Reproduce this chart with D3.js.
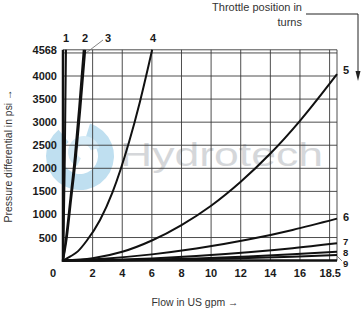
<!DOCTYPE html>
<html lang="en">
<head>
<meta charset="UTF-8">
<title>Throttle curves</title>
<script src="https://d3js.org/d3.v7.min.js"></script>
<style>
  body { margin: 0; background: #fff; }
  .tick-lbl { font-family: "Liberation Sans", Arial, sans-serif; font-weight: bold; font-size: 11px; fill: #1a1a1a; }
  .title { font-family: "Liberation Sans", Arial, sans-serif; font-size: 11px; fill: #333; }
</style>
</head>
<body>
<div id="chart"></div>
<script>
  // flow in US gpm vs pressure differential in psi, per throttle position
  const xTicks = [2, 4, 6, 8, 10, 12, 14, 16, 18];
  const yTicks = [500, 1000, 1500, 2000, 2500, 3000, 3500, 4000, 4500];
  const yLabels = [500, 1000, 1500, 2000, 2500, 3000, 3500, 4000, 4568];
  const curve1 = [[0, 0], [0.05, 700], [0.12, 2200], [0.2, 4568]];
  const curve2 = [[0, 0], [0.2, 480], [0.5, 1350], [0.8, 2250], [1.1, 3350], [1.4, 4568]];
  const curve3 = [[0, 0], [0.25, 480], [0.55, 1330], [0.87, 2230], [1.18, 3330], [1.5, 4568]];
  const curve4 = [[0, 0], [0.5, 90], [1, 200], [1.6, 430], [2.5, 880], [3.34, 1480], [4.45, 2560], [5.2, 3450], [6.02, 4568]];
  const curve5 = [[0, 0], [2, 50], [4, 190], [6, 435], [8, 770], [10, 1190], [12, 1710], [14, 2320], [16, 3030], [18.5, 4040]];
  const curve6 = [[0, 0], [3, 48], [6, 135], [9, 260], [12.5, 455], [15.5, 665], [18.5, 910]];
  const curve7 = [[0, 0], [3, 15], [6, 48], [9, 99], [12.5, 180], [15.5, 268], [18.5, 375]];
  const curve8 = [[0, 0], [3, 6], [6, 22], [9, 47], [12.5, 88], [15.5, 135], [18.5, 193]];
  const curve9 = [[0, 0], [3, 4], [6, 13], [9, 29], [12.5, 55], [15.5, 85], [18.5, 121]];
  const curves = [curve1, curve2, curve3, curve4, curve5, curve6, curve7, curve8, curve9];

  const W = 361, H = 310;
  const svg = d3.select('#chart').append('svg')
    .attr('width', W).attr('height', H);

  const x = d3.scaleLinear().domain([0, 18.5]).range([63, 337]);
  const y = d3.scaleLinear().domain([0, 4568]).range([260.6, 49.8]);

  // watermark
  const wm = svg.append('g').attr('opacity', 0.55);
  const arc = d3.arc();
  wm.append('path')
    .attr('transform', 'translate(80,156)')
    .attr('fill', '#8cc6e4')
    .attr('d', arc({ innerRadius: 18, outerRadius: 34, startAngle: 0.3, endAngle: 5.6 }));
  wm.append('path')
    .attr('transform', 'translate(84,152)')
    .attr('fill', '#b5dcef')
    .attr('d', arc({ innerRadius: 7, outerRadius: 16, startAngle: 3.6, endAngle: 7.6 }));
  wm.append('text')
    .attr('x', 120).attr('y', 166)
    .attr('textLength', 203)
    .attr('lengthAdjust', 'spacingAndGlyphs')
    .attr('font-family', '"Liberation Sans", sans-serif')
    .attr('font-size', 34)
    .attr('fill', '#b4b8bd')
    .text('Hydrotech');

  // grid
  const grid = svg.append('g').attr('stroke', '#3a3a3a').attr('stroke-width', 0.9);
  grid.selectAll('.gx').data(xTicks.concat([18.5])).enter().append('line')
    .attr('x1', d => x(d)).attr('x2', d => x(d))
    .attr('y1', y(0)).attr('y2', y(4568));
  grid.selectAll('.gy').data(yTicks.concat([4568])).enter().append('line')
    .attr('y1', d => y(d)).attr('y2', d => y(d))
    .attr('x1', x(0)).attr('x2', x(18.5));

  // axes lines
  svg.append('line').attr('x1', x(0)).attr('x2', x(0)).attr('y1', y(0) + 1.2).attr('y2', y(4568))
    .attr('stroke', '#111').attr('stroke-width', 2.5);
  svg.append('line').attr('x1', x(0) - 1.2).attr('x2', x(18.5)).attr('y1', y(0)).attr('y2', y(0))
    .attr('stroke', '#111').attr('stroke-width', 2.5);

  // tick labels
  svg.selectAll('.yl').data(yLabels).enter().append('text')
    .attr('class', 'tick-lbl')
    .attr('x', 57).attr('y', d => y(d) + 4)
    .attr('text-anchor', 'end')
    .text(d => d);
  svg.selectAll('.xl').data([0].concat(xTicks.slice(0, 8))).enter().append('text')
    .attr('class', 'tick-lbl')
    .attr('x', d => d === 0 ? x(0) - 10 : x(d)).attr('y', 277)
    .attr('text-anchor', 'middle')
    .text(d => d);
  svg.append('text').attr('class', 'tick-lbl')
    .attr('x', x(18.5) + 4).attr('y', 277)
    .attr('text-anchor', 'end')
    .text('18.5');

  // curves
  const line = d3.line()
    .x(d => x(d[0])).y(d => y(d[1]))
    .curve(d3.curveMonotoneX);
  svg.append('g').selectAll('path').data(curves).enter().append('path')
    .attr('d', line)
    .attr('fill', 'none')
    .attr('stroke', '#111')
    .attr('stroke-width', 2);

  // curve labels
  const topLbl = [['1', 66], ['2', 85], ['4', 153]];
  svg.selectAll('.tl').data(topLbl).enter().append('text')
    .attr('class', 'tick-lbl')
    .attr('x', d => d[1]).attr('y', 42)
    .attr('text-anchor', 'middle')
    .text(d => d[0]);
  svg.append('text').attr('class', 'tick-lbl').attr('x', 108).attr('y', 42)
    .attr('text-anchor', 'middle').text('3');
  svg.append('line').attr('x1', 86).attr('y1', 53).attr('x2', 103).attr('y2', 40)
    .attr('stroke', '#666').attr('stroke-width', 0.8);

  const sideLbl = [['5', 74], ['6', 221]];
  svg.selectAll('.sl').data(sideLbl).enter().append('text')
    .attr('class', 'tick-lbl')
    .attr('x', 343).attr('y', d => d[1])
    .text(d => d[0]);
  const lowLbl = [['7', 245], ['8', 256], ['9', 267]];
  svg.selectAll('.ll').data(lowLbl).enter().append('text')
    .attr('class', 'tick-lbl')
    .style('font-size', '9.5px')
    .attr('x', 343).attr('y', d => d[1])
    .text(d => d[0]);
  svg.append('line').attr('x1', 337).attr('y1', 256).attr('x2', 342).attr('y2', 261)
    .attr('stroke', '#666').attr('stroke-width', 0.8);

  // titles
  svg.append('text').attr('class', 'title')
    .attr('x', 302).attr('y', 11).attr('text-anchor', 'end')
    .text('Throttle position in');
  svg.append('text').attr('class', 'title')
    .attr('x', 302).attr('y', 26).attr('text-anchor', 'end')
    .text('turns');
  svg.append('path')
    .attr('d', 'M306,14 H358 V74')
    .attr('fill', 'none').attr('stroke', '#222').attr('stroke-width', 1);
  svg.append('path')
    .attr('d', 'M355.5,71 L358,81 L360.5,71 Z')
    .attr('fill', '#222');

  svg.append('text').attr('class', 'title')
    .attr('transform', 'translate(12,156) rotate(-90)')
    .attr('text-anchor', 'middle')
    .attr('textLength', 133)
    .attr('lengthAdjust', 'spacingAndGlyphs')
    .text('Pressure differential in psi \u2192');
  svg.append('text').attr('class', 'title')
    .attr('x', 195).attr('y', 306)
    .attr('text-anchor', 'middle')
    .attr('textLength', 87)
    .attr('lengthAdjust', 'spacingAndGlyphs')
    .text('Flow in US gpm \u2192');
</script>
</body>
</html>
